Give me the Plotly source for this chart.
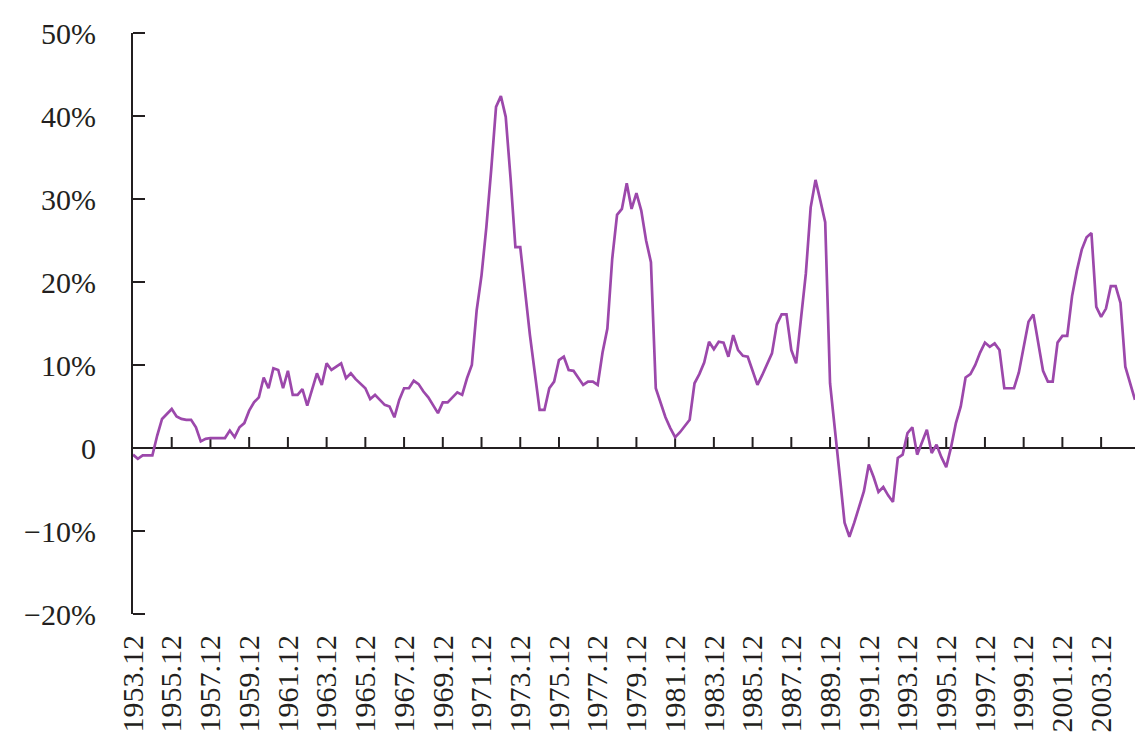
import plotly.graph_objects as go

# Quarterly series, 1953.12 onwards (%)
values = [
    -0.8, -1.3, -0.9, -0.9, -0.9, 1.5, 3.5, 4.1, 4.7, 3.8,
    3.5, 3.4, 3.4, 2.5, 0.8, 1.1, 1.2, 1.2, 1.2, 1.2,
    2.1, 1.3, 2.5, 3.0, 4.5, 5.5, 6.1, 8.5, 7.2, 9.6,
    9.4, 7.2, 9.3, 6.4, 6.4, 7.1, 5.1, 7.0, 9.0, 7.6,
    10.2, 9.4, 9.8, 10.2, 8.4, 9.0, 8.3, 7.7, 7.2, 5.9,
    6.4, 5.8, 5.2, 5.0, 3.7, 5.8, 7.2, 7.2, 8.1, 7.7,
    6.8, 6.1, 5.2, 4.2, 5.5, 5.5, 6.1, 6.7, 6.4, 8.4,
    10.0, 16.6, 20.8, 26.6, 33.5, 41.1, 42.4, 39.9, 32.5, 24.2,
    24.2, 18.7, 13.6, 9.1, 4.6, 4.6, 7.2, 8.0, 10.6, 11.0,
    9.4, 9.3, 8.4, 7.6, 8.0, 8.0, 7.6, 11.5, 14.4, 22.8,
    28.1, 28.8, 31.9, 28.8, 30.7, 28.6, 25.0, 22.4, 7.2, 5.3,
    3.7, 2.4, 1.3, 1.9, 2.6, 3.4, 7.8, 8.9, 10.3, 12.8,
    11.9, 12.8, 12.7, 11.0, 13.6, 11.8, 11.1, 11.0, 9.3, 7.6,
    8.8, 10.0, 11.4, 14.9, 16.1, 16.1, 11.8, 10.2, 15.4, 21.0,
    29.0, 32.3, 29.8, 27.2, 7.8, 2.5, -3.3, -9.0, -10.7, -9.0,
    -7.0, -5.2, -2.0, -3.5, -5.3, -4.7, -5.7, -6.5, -1.2, -0.8,
    1.8, 2.5, -0.8, 0.6, 2.2, -0.6, 0.4, -1.1, -2.3, 0.1,
    3.0, 5.0, 8.5, 8.9, 10.0, 11.5, 12.7, 12.2, 12.6, 11.8,
    7.2, 7.2, 7.2, 9.1, 12.2, 15.2, 16.1, 12.7, 9.3, 8.0,
    8.0, 12.7, 13.5, 13.5, 18.3, 21.4, 23.9, 25.4, 25.9, 17.0,
    15.8, 16.8, 19.5, 19.5, 17.5, 9.8, 7.8, 5.8,
]

x_index = list(range(len(values)))

tick_labels = [f"{y}.12" for y in range(1953, 2005, 2)]
tick_positions = [8 * k for k in range(len(tick_labels))]

y_min, y_max = -20, 50
y_tickvals = [-20, -10, 0, 10, 20, 30, 40, 50]
y_ticktext = ["\u221220%", "\u221210%", "0", "10%", "20%", "30%", "40%", "50%"]

LINE_COLOR = "#9c48ab"
AXIS_COLOR = "#231f20"
FONT = "Liberation Serif"

fig = go.Figure()
fig.add_trace(go.Scatter(
    x=x_index, y=values, mode="lines",
    line=dict(color=LINE_COLOR, width=2.7),
    showlegend=False, hoverinfo="skip",
))

# upward tick marks on the zero line, one per labelled date
for pos in tick_positions[1:]:
    fig.add_shape(
        type="line", xref="x", yref="y",
        x0=pos, x1=pos, ysizemode="pixel", yanchor=0, y0=0, y1=11,
        line=dict(color=AXIS_COLOR, width=2), layer="below",
    )

# rightward tick marks on the value axis
for val in y_tickvals:
    frac = (val - y_min) / (y_max - y_min)
    fig.add_shape(
        type="line", xref="paper", yref="paper",
        xsizemode="pixel", xanchor=0, x0=0, x1=12, y0=frac, y1=frac,
        line=dict(color=AXIS_COLOR, width=2), layer="above",
    )

fig.update_layout(
    width=1147, height=749,
    margin=dict(l=133, r=12, t=33, b=135),
    paper_bgcolor="white", plot_bgcolor="white",
    font=dict(family=FONT, size=30, color=AXIS_COLOR),
    xaxis=dict(
        range=[0, len(values) - 1], showgrid=False, zeroline=False,
        showline=False, ticks="",
        tickmode="array", tickvals=tick_positions, ticktext=tick_labels,
        tickangle=-90, ticklabelstandoff=14,
        tickfont=dict(family=FONT, size=30, color=AXIS_COLOR),
    ),
    yaxis=dict(
        range=[y_min, y_max], showgrid=False,
        zeroline=True, zerolinecolor=AXIS_COLOR, zerolinewidth=2,
        showline=True, linecolor=AXIS_COLOR, linewidth=2,
        tickmode="array", tickvals=y_tickvals, ticktext=y_ticktext,
        ticks="", ticklabelstandoff=29,
        tickfont=dict(family=FONT, size=30, color=AXIS_COLOR),
    ),
)

fig.write_html("out.html")
